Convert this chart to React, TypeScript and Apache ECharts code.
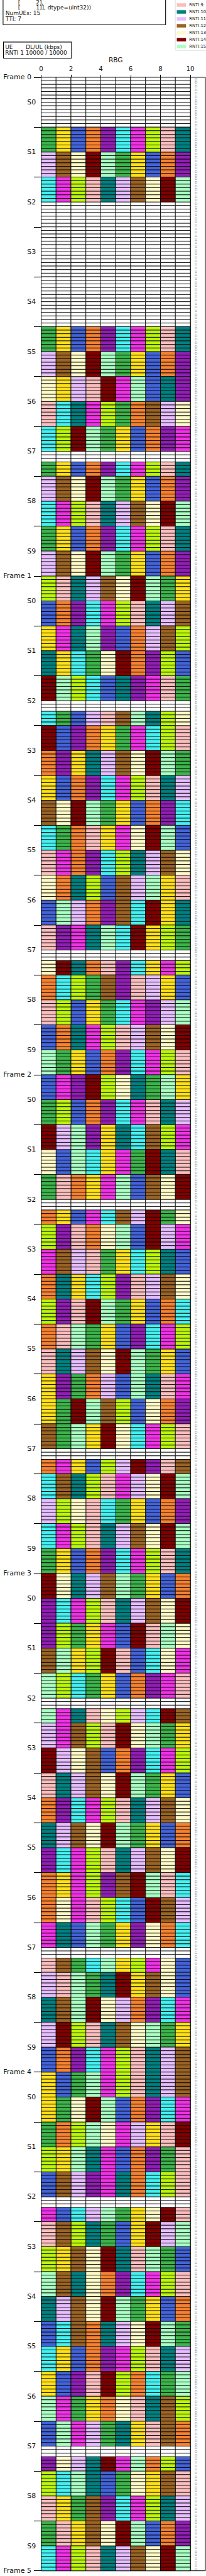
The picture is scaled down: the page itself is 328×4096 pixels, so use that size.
import React, { useEffect, useRef } from 'react';
import * as echarts from 'echarts';

// RNTI colours (index = RNTI, 0 = empty)
const RNTI_COLORS = ['#ffffff', '#3cb44b', '#ffe119', '#4363d8', '#f58231', '#911eb4', '#46f0f0', '#f032e6', '#bcf60c', '#fabebe', '#008080', '#e6beff', '#9a6324', '#fffac8', '#800000', '#aaffc3'];
const RNTI_NAMES = ['RNTI:1', 'RNTI:2', 'RNTI:3', 'RNTI:4', 'RNTI:5', 'RNTI:6', 'RNTI:7', 'RNTI:8', 'RNTI:9', 'RNTI:10', 'RNTI:11', 'RNTI:12', 'RNTI:13', 'RNTI:14', 'RNTI:15'];
const RBG_TICKS = [0, 2, 4, 6, 8, 10];
const SLOT_TYPES = ['D', 'D', 'S', 'U', 'U', 'D', 'D', 'S', 'U', 'U'];
const SLOT_NAMES = ['S0', 'S1', 'S2', 'S3', 'S4', 'S5', 'S6', 'S7', 'S8', 'S9'];
const FRAME_NAMES = ['Frame 0', 'Frame 1', 'Frame 2', 'Frame 3', 'Frame 4', 'Frame 5'];
const E = [0, 0, 0, 0, 0, 0, 0, 0, 0, 0];

// per slot: [first half (symbols 0-6), second half (7-13 or UL 10-13 in special slots)]
const frame0 = [
  [E, E],
  [[1, 2, 3, 4, 5, 6, 7, 8, 9, 10], [11, 12, 13, 14, 15, 1, 2, 3, 4, 5]],
  [[6, 7, 8, 9, 10, 11, 12, 13, 14, 15], E],
  [E, E],
  [E, E],
  [[1, 2, 3, 4, 5, 6, 7, 8, 9, 10], [11, 12, 13, 14, 15, 1, 2, 3, 4, 5]],
  [[13, 2, 11, 9, 14, 7, 15, 3, 10, 5], [9, 6, 10, 7, 8, 1, 4, 12, 11, 13]],
  [[6, 8, 14, 15, 1, 2, 3, 4, 5, 7], [1, 2, 3, 4, 5, 6, 7, 8, 9, 10]],
  [[11, 12, 13, 14, 15, 1, 2, 3, 4, 5], [6, 7, 8, 9, 10, 11, 12, 13, 14, 15]],
  [[1, 2, 3, 4, 5, 6, 7, 8, 9, 10], [11, 12, 13, 14, 15, 1, 2, 3, 4, 5]],
];
const frame1 = [
  [[8, 9, 10, 11, 12, 13, 14, 15, 1, 2], [3, 4, 5, 6, 7, 8, 9, 10, 11, 12]],
  [[2, 7, 10, 15, 5, 3, 4, 11, 12, 8], [10, 2, 6, 1, 13, 14, 4, 5, 8, 3]],
  [[14, 15, 8, 6, 3, 10, 5, 7, 9, 1], [6, 1, 3, 11, 9, 12, 15, 10, 8, 13]],
  [[14, 3, 5, 4, 2, 1, 7, 6, 8, 9], [4, 5, 2, 10, 11, 12, 13, 14, 15, 1]],
  [[2, 3, 4, 5, 6, 7, 8, 9, 10, 11], [12, 13, 14, 15, 1, 2, 3, 4, 5, 6]],
  [[6, 1, 4, 9, 2, 7, 13, 14, 15, 3], [9, 7, 4, 5, 6, 8, 10, 11, 12, 13]],
  [[13, 4, 10, 8, 3, 12, 11, 15, 2, 9], [3, 15, 11, 4, 5, 12, 6, 14, 2, 10]],
  [[9, 5, 7, 10, 15, 6, 14, 2, 8, 1], [13, 14, 10, 4, 9, 5, 6, 2, 7, 8]],
  [[4, 6, 8, 1, 12, 5, 9, 11, 2, 3], [9, 8, 3, 2, 1, 6, 7, 5, 11, 15]],
  [[3, 4, 10, 7, 8, 9, 11, 12, 13, 14], [15, 1, 2, 3, 4, 5, 6, 7, 8, 9]],
];
const frame2 = [
  [[3, 7, 5, 14, 8, 13, 10, 1, 15, 2], [1, 8, 3, 4, 5, 6, 7, 9, 10, 11]],
  [[14, 11, 15, 5, 2, 10, 6, 12, 8, 7], [13, 3, 15, 6, 2, 7, 1, 14, 10, 9]],
  [[1, 9, 4, 2, 7, 15, 3, 12, 13, 14], [4, 2, 3, 7, 6, 12, 11, 14, 1, 13]],
  [[8, 5, 9, 4, 13, 15, 3, 14, 11, 7], [7, 12, 11, 9, 1, 2, 6, 8, 10, 3]],
  [[4, 10, 2, 6, 8, 5, 9, 11, 12, 13], [8, 5, 9, 14, 15, 1, 2, 3, 4, 6]],
  [[4, 9, 15, 1, 2, 3, 5, 6, 7, 8], [9, 10, 11, 12, 13, 14, 15, 1, 2, 3]],
  [[2, 5, 1, 4, 11, 3, 15, 10, 9, 7], [2, 1, 14, 15, 12, 8, 3, 13, 4, 5]],
  [[12, 1, 15, 2, 14, 13, 6, 7, 8, 9], [4, 7, 2, 3, 8, 11, 14, 5, 9, 12]],
  [[6, 12, 10, 8, 9, 7, 11, 13, 14, 15], [11, 8, 13, 9, 6, 1, 2, 3, 4, 5]],
  [[6, 7, 8, 9, 10, 11, 12, 13, 14, 15], [1, 2, 3, 4, 5, 6, 7, 8, 9, 10]],
];
const frame3 = [
  [[14, 13, 10, 11, 12, 15, 1, 2, 3, 4], [5, 6, 7, 8, 9, 10, 11, 12, 13, 14]],
  [[5, 8, 1, 2, 7, 3, 14, 9, 15, 13], [12, 15, 2, 8, 14, 9, 3, 6, 13, 7]],
  [[15, 8, 6, 1, 2, 3, 4, 5, 7, 9], [15, 7, 10, 9, 13, 8, 11, 6, 14, 12]],
  [[11, 7, 12, 8, 9, 14, 13, 15, 1, 2], [14, 11, 13, 12, 3, 4, 5, 6, 7, 8]],
  [[9, 10, 11, 12, 13, 14, 15, 1, 2, 3], [4, 5, 6, 7, 8, 9, 10, 11, 12, 13]],
  [[10, 11, 12, 13, 14, 15, 1, 2, 3, 4], [5, 6, 7, 8, 9, 10, 11, 12, 13, 14]],
  [[4, 2, 7, 8, 5, 12, 14, 15, 9, 6], [4, 13, 7, 9, 8, 6, 3, 14, 12, 11]],
  [[7, 10, 3, 15, 1, 2, 5, 13, 4, 6], [9, 12, 1, 6, 15, 2, 8, 7, 13, 3]],
  [[11, 9, 15, 1, 10, 14, 2, 12, 13, 3], [10, 12, 15, 14, 13, 11, 4, 5, 6, 7]],
  [[11, 14, 8, 9, 10, 12, 13, 15, 1, 2], [3, 4, 5, 6, 7, 8, 9, 10, 11, 12]],
];
const frame4 = [
  [[2, 3, 1, 15, 7, 8, 9, 10, 11, 12], [2, 1, 13, 14, 15, 3, 4, 5, 6, 7]],
  [[1, 4, 8, 15, 13, 7, 11, 2, 9, 14], [8, 2, 15, 10, 7, 3, 4, 5, 1, 9]],
  [[3, 12, 11, 5, 7, 10, 4, 6, 8, 9], [7, 3, 6, 11, 15, 1, 2, 13, 14, 9]],
  [[9, 12, 8, 10, 1, 3, 2, 14, 11, 15], [8, 2, 12, 13, 14, 10, 9, 15, 1, 3]],
  [[15, 12, 10, 13, 4, 5, 6, 7, 8, 9], [10, 11, 12, 13, 14, 15, 1, 2, 3, 4]],
  [[3, 6, 12, 4, 10, 11, 13, 14, 15, 1], [6, 2, 3, 4, 5, 7, 8, 9, 10, 11]],
  [[2, 3, 5, 9, 14, 8, 4, 6, 1, 15], [15, 7, 1, 2, 4, 13, 9, 10, 12, 8]],
  [[3, 15, 7, 11, 1, 10, 2, 9, 12, 4], [5, 13, 11, 10, 14, 7, 15, 4, 8, 3]],
  [[8, 6, 15, 10, 3, 1, 13, 2, 12, 9], [9, 2, 1, 12, 5, 6, 7, 8, 10, 11]],
  [[1, 9, 2, 12, 13, 14, 15, 3, 4, 5], [6, 7, 8, 9, 10, 11, 12, 13, 14, 15]],
];
const FRAMES = [frame0, frame1, frame2, frame3, frame4];

// text box lines
const INFO_LINES = ['NumUEs: 15', 'TTI: 7'];
const UE_TABLE_HEAD = ['UE', 'DL/UL (kbps)'];
const UE_TABLE_ROW = 'RNTI 1 10000 / 10000';

const SYMS = 14;
const FONT = 'DejaVu Sans';

function buildCells() {
  const cells: number[][][] = RNTI_COLORS.map(() => []);
  const letters: any[] = [];
  FRAMES.forEach((frame, f) => {
    frame.forEach((slot, s) => {
      const base = (f * 10 + s) * SYMS;
      const type = SLOT_TYPES[s];
      for (let r = 0; r < SYMS; r++) {
        let alloc = E;
        if (r < 7) alloc = slot[0];
        else if (type !== 'S') alloc = slot[1];
        else if (r >= 10) alloc = slot[1];
        for (let c = 0; c < 10; c++) cells[alloc[c]].push([c, base + r]);
        let L = type;
        if (type === 'S') L = r < 8 ? 'D' : r < 10 ? 'G' : 'U';
        letters.push([0.38, base + r + 0.5, L]);
      }
    });
  });
  return { cells, letters };
}

export default function App() {
  const ref = useRef<HTMLDivElement>(null);
  useEffect(() => {
    document.body.style.margin = '0';
    const chart = echarts.init(ref.current!, null, { renderer: 'svg' });
    const { cells, letters } = buildCells();
    const slotKeys: string[] = [];
    for (let f = 0; f < 5; f++) for (let s = 0; s < 10; s++) slotKeys.push(f + '-' + SLOT_NAMES[s]);

    const cellRender = (fill: string) => (params: any, api: any) => {
      const c = api.value(0);
      const r = api.value(1);
      const p0 = api.coord([c, r]);
      const p1 = api.coord([c + 1, r + 1]);
      return {
        type: 'rect',
        shape: { x: p0[0], y: p0[1], width: p1[0] - p0[0], height: p1[1] - p0[1] },
        style: { fill, stroke: '#000', lineWidth: 0.85 },
      };
    };

    const series: any[] = [];
    series.push({
      type: 'custom', name: 'empty', xAxisIndex: 0, yAxisIndex: 0,
      encode: { x: 0, y: 1 }, data: cells[0], renderItem: cellRender('#ffffff'),
      itemStyle: { color: '#ffffff' },
    });
    for (let k = 1; k <= 15; k++) {
      series.push({
        type: 'custom', name: RNTI_NAMES[k - 1], xAxisIndex: 0, yAxisIndex: 0,
        encode: { x: 0, y: 1 }, data: cells[k], renderItem: cellRender(RNTI_COLORS[k]),
        itemStyle: { color: RNTI_COLORS[k] },
      });
    }
    series.push({
      type: 'custom', name: 'symbols', xAxisIndex: 1, yAxisIndex: 2,
      encode: { x: 0, y: 1 }, data: letters,
      renderItem: (params: any, api: any) => {
        const p = api.coord([api.value(0), api.value(1)]);
        return {
          type: 'text', x: p[0], y: p[1],
          style: { text: letters[params.dataIndex][2], fontSize: 5.6, fontFamily: FONT, fill: '#8a8a8a', align: 'center', verticalAlign: 'middle' },
        };
      },
    });

    const txt = (text: string, x: number, y: number, size = 9) => ({
      type: 'text', x, y,
      style: { text, fontSize: size, fontFamily: FONT, fill: '#111', verticalAlign: 'middle', align: 'left' },
    });

    const option: any = {
      animation: false,
      textStyle: { fontFamily: FONT },
      grid: [
        { left: 65.5, top: 122.9, width: 237.5, height: 3964.8, show: true, borderColor: '#000', borderWidth: 1 },
        { left: 303.0, top: 122.9, width: 24, height: 3964.8, show: true, borderColor: '#000', borderWidth: 1 },
      ],
      xAxis: [
        {
          gridIndex: 0, type: 'value', position: 'top', min: 0, max: 10, interval: 2,
          name: 'RBG', nameLocation: 'middle', nameGap: 22,
          nameTextStyle: { fontSize: 10.6, color: '#111', fontFamily: FONT },
          axisLine: { show: false },
          axisTick: { show: true, length: 4, lineStyle: { color: '#000', width: 1 } },
          axisLabel: { fontSize: 10.2, margin: 8, color: '#111', fontFamily: FONT, formatter: (v: number) => String(RBG_TICKS[Math.round(v / 2)]) },
          splitLine: { show: false },
        },
        { gridIndex: 1, type: 'value', min: 0, max: 1, show: false },
      ],
      yAxis: [
        {
          gridIndex: 0, type: 'value', position: 'left', min: 0, max: 700, interval: 140, inverse: true,
          axisLine: { show: false }, axisTick: { show: false }, splitLine: { show: false },
          axisLabel: {
            formatter: (v: number) => FRAME_NAMES[Math.round(v / 140)], margin: 15.5, fontSize: 11,
            color: '#111', fontFamily: FONT, showMinLabel: true, showMaxLabel: true,
          },
        },
        {
          gridIndex: 0, type: 'category', position: 'left', offset: 0, data: slotKeys, inverse: true,
          axisLine: { show: false },
          axisTick: { show: true, length: 11.5, interval: 0, lineStyle: { color: '#000', width: 1.1 } },
          axisLabel: { interval: 0, margin: 8.2, fontSize: 11, color: '#111', fontFamily: FONT, formatter: (v: string) => v.split('-')[1] },
          splitLine: { show: false },
        },
        { gridIndex: 1, type: 'value', min: 0, max: 700, inverse: true, show: false },
      ],
      legend: {
        data: RNTI_NAMES, orient: 'vertical', left: 279, top: -87,
        padding: [3, 4, 2, 2.5], itemWidth: 14.7, itemHeight: 5.5, itemGap: 3, icon: 'rect',
        textStyle: { fontSize: 6.8, lineHeight: 8, color: '#111', fontFamily: FONT },
        borderColor: '#cccccc', borderWidth: 0.8, borderRadius: 2, backgroundColor: 'rgba(255,255,255,0.8)',
        selectedMode: false,
      },
      graphic: [
        { type: 'rect', shape: { x: 4.9, y: -60, width: 258.8, height: 99.3 }, style: { fill: '#fff', stroke: '#000', lineWidth: 1.1 } },
        txt('[', 28.7, 3.6),
        txt('2],', 57.3, 3.6),
        txt('[', 28.7, 12.3),
        txt('1]], dtype=uint32))', 57.3, 12.3),
        txt(INFO_LINES[0], 8.8, 21.3),
        txt(INFO_LINES[1], 8.8, 30.1),
        { type: 'rect', shape: { x: 5.5, y: 66.9, width: 108.4, height: 25.6 }, style: { fill: '#fff', stroke: '#000', lineWidth: 1.1 } },
        txt(UE_TABLE_HEAD[0], 8.2, 74.5),
        txt(UE_TABLE_HEAD[1], 41, 74.5),
        txt(UE_TABLE_ROW, 8.2, 84.4),
      ],
      series,
    };
    chart.setOption(option);
    return () => chart.dispose();
  }, []);
  return <div ref={ref} style={{ width: 328, height: 4096 }} />;
}
